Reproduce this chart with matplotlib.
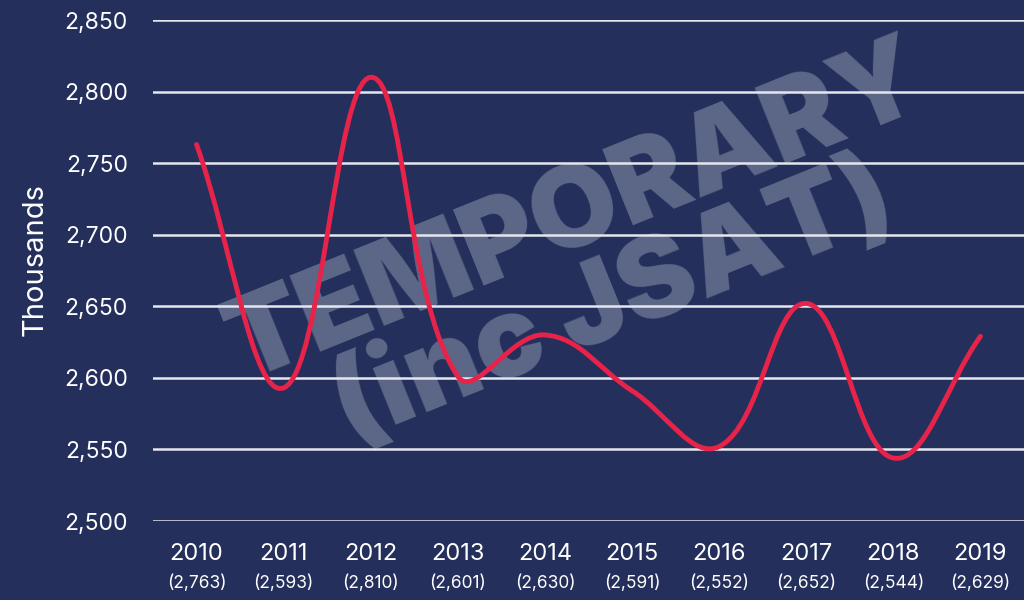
import numpy as np
import matplotlib.pyplot as plt
from matplotlib.transforms import blended_transform_factory
from matplotlib.path import Path
from matplotlib.patches import PathPatch

years = ['2010', '2011', '2012', '2013', '2014', '2015', '2016', '2017', '2018', '2019']
values = [2763, 2593, 2810, 2601, 2630, 2591, 2552, 2652, 2544, 2629]
y_ticks = [2500, 2550, 2600, 2650, 2700, 2750, 2800, 2850]

bg = '#242f5c'
red = '#e8234a'

plt.rcParams['font.family'] = ['Inter', 'DejaVu Sans']

fig = plt.figure(figsize=(10.24, 6), dpi=100, facecolor=bg)
ax = fig.add_axes([153 / 1024, 79 / 600, 1 - 153 / 1024, (521 - 20) / 600])
ax.set_facecolor(bg)
ax.set_xlim(-0.5, 9.5)
ax.set_ylim(2500, 2850)

for s in ax.spines.values():
    s.set_visible(False)
ax.set_yticks(y_ticks)
ax.set_yticklabels([f'{v:,}' for v in y_ticks])
ax.tick_params(axis='y', length=0, pad=18, labelsize=16.5, labelcolor='white')
ax.grid(axis='y', color='#e6e6ee', linewidth=1.8, zorder=2)
ax.set_axisbelow(False)

x = np.arange(len(years))
ax.set_xticks(x)
ax.set_xticklabels(years)
ax.tick_params(axis='x', length=0, pad=16, labelsize=17, labelcolor='white')
trans = blended_transform_factory(ax.transData, ax.transAxes)
for xi, v in zip(x, values):
    ax.text(xi, -0.124, f'({v:,})', transform=trans, ha='center', va='center',
            fontsize=12.5, color='white')

fig.text(35 / 1024, 1 - 260 / 600, 'Thousands', rotation=90, ha='center', va='center',
         fontsize=21, color='white')

# watermark
ax.text(0.508, 0.522, 'TEMPORARY\n(inc JSAT)', transform=ax.transAxes, rotation=22,
        ha='center', va='center', fontsize=81, fontweight=900,
        family=['Inter', 'DejaVu Sans'], color='#5d6787', linespacing=0.9, zorder=1)

# chart.js style tension curve through the points
fig.canvas.draw()
pts = ax.transData.transform(np.column_stack([x, values]))
tension = 0.4
verts = [pts[0]]
codes = [Path.MOVETO]
cps = []
for i in range(len(pts)):
    prev = pts[i - 1] if i > 0 else pts[i]
    nxt = pts[i + 1] if i < len(pts) - 1 else pts[i]
    d01 = np.hypot(*(pts[i] - prev))
    d12 = np.hypot(*(nxt - pts[i]))
    tot = d01 + d12
    s01 = d01 / tot if tot else 0
    s12 = d12 / tot if tot else 0
    cps.append((pts[i] - tension * s01 * (nxt - prev), pts[i] + tension * s12 * (nxt - prev)))
for i in range(1, len(pts)):
    verts += [cps[i - 1][1], cps[i][0], pts[i]]
    codes += [Path.CURVE4] * 3
verts = ax.transData.inverted().transform(np.array(verts))
ax.add_patch(PathPatch(Path(verts, codes), facecolor='none', edgecolor=red,
                       linewidth=3.5, capstyle='round', zorder=3, clip_on=False))

fig.savefig('out.png', dpi=100, facecolor=bg)
